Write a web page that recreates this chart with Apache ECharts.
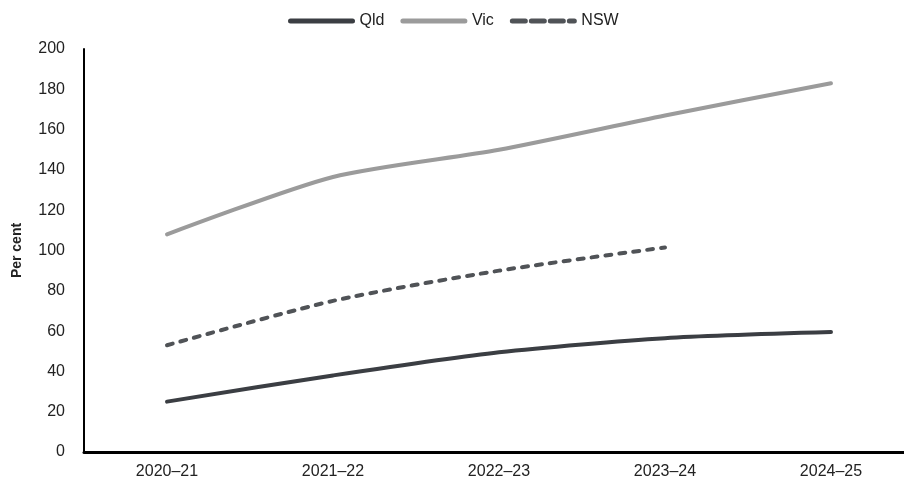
<!DOCTYPE html>
<html>
<head>
<meta charset="utf-8">
<script src="https://cdn.jsdelivr.net/npm/echarts@6/dist/echarts.min.js"></script>
<style>
  html, body { margin: 0; padding: 0; background: #fff; overflow: hidden; }
  /* the plot runs a little past the right edge of the page */
  #chart { width: 914px; height: 492px; }
</style>
</head>
<body>
<div id="chart"></div>
<script>
// Financial years on the horizontal axis
const years = ['2020\u201321', '2021\u201322', '2022\u201323', '2023\u201324', '2024\u201325'];

// Per cent values by state
const qld = [25, 38, 49.5, 56.5, 59.5];
const vic = [108, 136.5, 150, 167, 183];
const nsw = [53, 75, 90, 101.5, null];

const chart = echarts.init(document.getElementById('chart'));

const fontFamily = 'Liberation Sans, Arial, sans-serif';

chart.setOption({
  animation: false,
  textStyle: { fontFamily: fontFamily },
  legend: {
    top: 8,
    left: 283,
    itemWidth: 62,
    itemHeight: 10,
    itemGap: 16,
    // hide the marker dot that line legends draw; keep only the line sample
    itemStyle: { opacity: 0 },
    lineStyle: { width: 5, cap: 'round' },
    textStyle: { fontSize: 16, color: '#222', fontFamily: fontFamily, padding: [0, 0, 0, 2] },
    data: [
      { name: 'Qld' },
      { name: 'Vic' },
      { name: 'NSW', lineStyle: { type: [13, 6], width: 5, cap: 'round' } }
    ]
  },
  grid: { left: 84, right: 0, top: 49, bottom: 40, containLabel: false },
  xAxis: {
    type: 'category',
    data: years,
    boundaryGap: true,
    axisLine: { lineStyle: { color: '#000', width: 3 } },
    axisTick: { show: false },
    axisLabel: { fontSize: 16, color: '#222', margin: 12 },
    splitLine: { show: false }
  },
  yAxis: {
    type: 'value',
    min: 0,
    max: 200,
    interval: 20,
    name: 'Per cent',
    nameLocation: 'middle',
    nameGap: 60,
    nameTextStyle: { fontSize: 14, fontWeight: 'bold', color: '#222' },
    axisLine: { show: true, lineStyle: { color: '#000', width: 2 } },
    axisTick: { show: false },
    axisLabel: { fontSize: 16, color: '#222', margin: 19 },
    splitLine: { show: false }
  },
  series: [
    {
      name: 'Qld',
      type: 'line',
      data: qld,
      symbol: 'none',
      smooth: 0.25,
      lineStyle: { color: '#3b3e43', width: 4, cap: 'round' },
      itemStyle: { color: '#3b3e43' }
    },
    {
      name: 'Vic',
      type: 'line',
      data: vic,
      symbol: 'none',
      smooth: 0.25,
      lineStyle: { color: '#9b9b9b', width: 4, cap: 'round' },
      itemStyle: { color: '#9b9b9b' }
    },
    {
      name: 'NSW',
      type: 'line',
      data: nsw,
      symbol: 'none',
      smooth: 0.25,
      lineStyle: { color: '#505357', width: 4, type: [6, 8], cap: 'round' },
      itemStyle: { color: '#505357' }
    }
  ]
});
</script>
</body>
</html>
